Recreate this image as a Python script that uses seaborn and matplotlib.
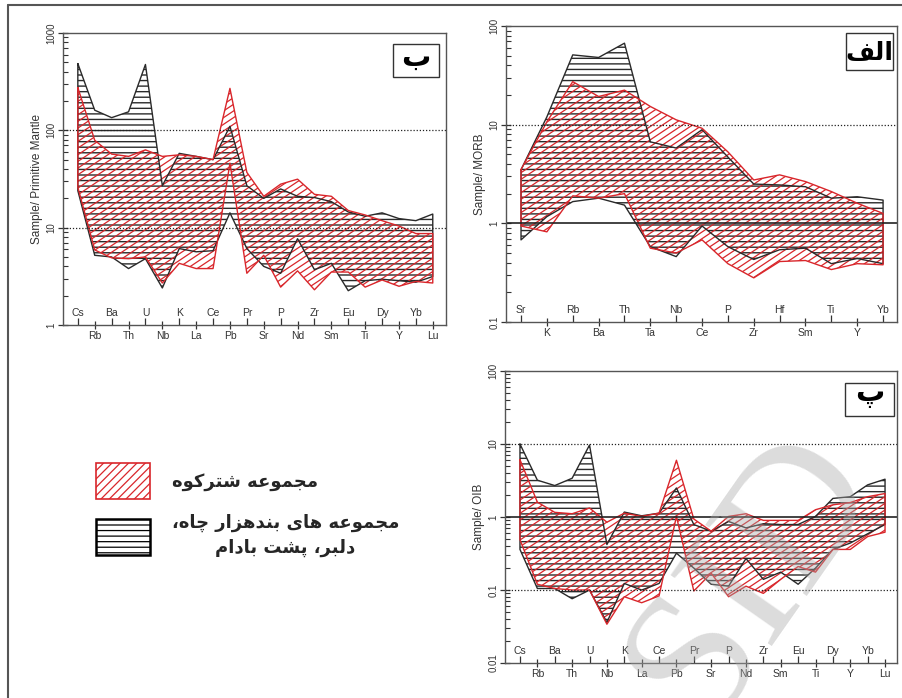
import numpy as np
import pandas as pd
import matplotlib
matplotlib.use("Agg")
import matplotlib.pyplot as plt
import seaborn as sns
from matplotlib import hatch as mhatch
from matplotlib.path import Path
from matplotlib.lines import Line2D
from matplotlib.patches import Patch, Rectangle
from matplotlib.font_manager import FontProperties

# ---- data (normalised concentrations) ----
pm_elements = ["Cs", "Rb", "Ba", "Th", "U", "Nb", "K", "La", "Ce", "Pb", "Pr",
               "Sr", "P", "Nd", "Zr", "Sm", "Eu", "Ti", "Dy", "Y", "Yb", "Lu"]
pm_black_hi = [485, 161, 135, 155, 475, 27, 58, 54, 50, 110, 27,
               20, 25, 21, 20.4, 18.5, 14.5, 13.1, 14.2, 12.4, 11.8, 13.8]
pm_black_lo = [24, 5.2, 5.0, 3.8, 4.8, 2.4, 6.1, 5.65, 5.8, 14.2, 6.1,
               4.0, 3.4, 7.7, 3.7, 4.3, 2.25, 2.85, 2.95, 2.85, 2.75, 3.15]
pm_red_hi = [275, 79, 57, 54, 63, 54, 56, 54, 50, 270, 37,
             21, 28, 31.5, 22, 21, 15, 13.5, 11.8, 10.4, 8.7, 8.7]
pm_red_lo = [26, 5.9, 4.9, 4.8, 5.0, 2.7, 4.3, 3.8, 3.8, 46, 3.4,
             5.2, 2.45, 3.6, 2.3, 3.5, 3.5, 2.45, 2.9, 2.5, 2.8, 2.7]

morb_elements = ["Sr", "K", "Rb", "Ba", "Th", "Ta", "Nb", "Ce", "P", "Zr",
                 "Hf", "Sm", "Ti", "Y", "Yb"]
morb_black_hi = [3.5, 12, 51, 48, 67, 6.7, 5.8, 8.9, 4.7, 2.5,
                 2.45, 2.35, 1.8, 1.86, 1.72]
morb_black_lo = [0.68, 1.17, 1.66, 1.8, 1.53, 0.58, 0.46, 0.94, 0.58, 0.43,
                 0.54, 0.56, 0.39, 0.44, 0.39]
morb_red_hi = [3.5, 10.7, 27.3, 19.3, 22.4, 15.3, 11.2, 9.2, 5.3, 2.75,
               3.1, 2.65, 2.1, 1.6, 1.26]
morb_red_lo = [0.94, 0.82, 1.9, 1.8, 2.0, 0.56, 0.50, 0.68, 0.39, 0.28,
               0.41, 0.42, 0.34, 0.39, 0.38]

oib_elements = pm_elements
oib_black_hi = [10, 3.2, 2.7, 3.4, 9.7, 0.42, 1.17, 1.04, 1.13, 2.5, 0.79,
                0.64, 0.87, 0.71, 0.81, 0.79, 0.79, 1.02, 1.8, 1.9, 2.76, 3.3]
oib_black_lo = [0.36, 0.105, 0.105, 0.076, 0.1, 0.036, 0.123, 0.1, 0.123, 0.32, 0.2,
                0.12, 0.113, 0.27, 0.14, 0.176, 0.12, 0.2, 0.36, 0.44, 0.59, 0.79]
oib_red_hi = [6.1, 1.6, 1.16, 1.11, 1.33, 0.85, 1.13, 1.02, 1.13, 6.0, 0.94,
              0.64, 1.02, 1.11, 0.90, 0.90, 0.90, 1.26, 1.47, 1.58, 1.9, 2.1]
oib_red_lo = [0.49, 0.12, 0.105, 0.1, 0.1, 0.034, 0.081, 0.067, 0.083, 1.02, 0.097,
              0.17, 0.081, 0.113, 0.09, 0.14, 0.21, 0.176, 0.36, 0.36, 0.54, 0.62]

legend_red = "مجموعه شترکوه"
legend_black = "مجموعه های بندهزار چاه،\nدلبر، پشت بادام"
watermark = "SID"

RED = "#d9262b"
BLACK = "#2a2a2a"

# matplotlib has no Arabic shaping: pick presentation forms by hand
FORMS = {
    "ا": ("\uFE8D", "\uFE8E", None, None),
    "ب": ("\uFE8F", "\uFE90", "\uFE91", "\uFE92"),
    "پ": ("\uFB56", "\uFB57", "\uFB58", "\uFB59"),
    "ت": ("\uFE95", "\uFE96", "\uFE97", "\uFE98"),
    "ج": ("\uFE9D", "\uFE9E", "\uFE9F", "\uFEA0"),
    "چ": ("\uFB7A", "\uFB7B", "\uFB7C", "\uFB7D"),
    "د": ("\uFEA9", "\uFEAA", None, None),
    "ر": ("\uFEAD", "\uFEAE", None, None),
    "ز": ("\uFEAF", "\uFEB0", None, None),
    "ش": ("\uFEB5", "\uFEB6", "\uFEB7", "\uFEB8"),
    "ع": ("\uFEC9", "\uFECA", "\uFECB", "\uFECC"),
    "ف": ("\uFED1", "\uFED2", "\uFED3", "\uFED4"),
    "ک": ("\uFB8E", "\uFB8F", "\uFB90", "\uFB91"),
    "ل": ("\uFEDD", "\uFEDE", "\uFEDF", "\uFEE0"),
    "م": ("\uFEE1", "\uFEE2", "\uFEE3", "\uFEE4"),
    "ن": ("\uFEE5", "\uFEE6", "\uFEE7", "\uFEE8"),
    "ه": ("\uFEE9", "\uFEEA", "\uFEEB", "\uFEEC"),
    "و": ("\uFEED", "\uFEEE", None, None),
    "ی": ("\uFBFC", "\uFBFD", "\uFBFE", "\uFBFF"),
}


def shape_line(text):
    """Join Persian letters and flip to visual (left-to-right) order."""
    out = []
    for i, c in enumerate(text):
        if c not in FORMS:
            out.append(c)
            continue
        prev = text[i - 1] if i > 0 else ""
        nxt = text[i + 1] if i + 1 < len(text) else ""
        iso, fin, ini, med = FORMS[c]
        join_prev = prev in FORMS and FORMS[prev][2] is not None
        join_next = ini is not None and nxt in FORMS
        if join_prev and join_next:
            out.append(med)
        elif join_prev:
            out.append(fin)
        elif join_next:
            out.append(ini)
        else:
            out.append(iso)
    return "".join(reversed(out))


def shape(text):
    return "\n".join(shape_line(t) for t in text.split("\n"))


class ShallowNorthEastHatch(mhatch.HatchPatternBase):
    """'/' and '//' give shallow (slope 2/3) lines like the original figure;
    three or more slashes fall back to the usual 45 degree hatch."""

    def __init__(self, hatch, density):
        n = hatch.count("/")
        self.steep = n >= 3
        if self.steep:
            self.num_lines = int(n * density)
            self.num_vertices = (self.num_lines + 1) * 2
        elif n:
            # lines per inch counted vertically, kept a multiple of 3 so the tile repeats
            self.num_lines = 3 * int(round(n * density * 1.25 / 3))
            self.ks = np.arange(-2 * self.num_lines // 3, self.num_lines + 1)
            self.num_vertices = len(self.ks) * 2
        else:
            self.num_lines = 0
            self.num_vertices = 0

    def set_vertices_and_codes(self, vertices, codes):
        if self.steep:
            steps = np.linspace(-0.5, 0.5, self.num_lines + 1)
            vertices[0::2, 0] = 0.0 + steps
            vertices[0::2, 1] = 0.0 - steps
            vertices[1::2, 0] = 1.0 + steps
            vertices[1::2, 1] = 1.0 - steps
        else:
            off = self.ks / self.num_lines
            vertices[0::2, 0] = 0.0
            vertices[0::2, 1] = off
            vertices[1::2, 0] = 1.0
            vertices[1::2, 1] = off + 2.0 / 3.0
        codes[0::2] = Path.MOVETO
        codes[1::2] = Path.LINETO


mhatch._hatch_types = [ShallowNorthEastHatch if h is mhatch.NorthEastHatch else h
                       for h in mhatch._hatch_types]


def draw_panel(ax, elements, black_hi, black_lo, red_hi, red_lo,
               ylim, yticks, ylabel, tag, dotted, solid, box):
    x = np.arange(len(elements))
    for hi, lo, col, hatch, hlw in [(black_hi, black_lo, BLACK, "---", 1.0),
                                    (red_hi, red_lo, RED, "//", 0.9)]:
        coll = ax.fill_between(x, lo, hi, facecolor="none", edgecolor=col,
                               hatch=hatch, linewidth=0)
        if hasattr(coll, "set_hatch_linewidth"):
            coll.set_hatch_linewidth(hlw)
        # closed outline of the field
        xs = np.concatenate([x, x[::-1], x[:1]])
        ys = np.concatenate([hi, lo[::-1], hi[:1]])
        sns.lineplot(x=xs, y=ys, sort=False, estimator=None, color=col,
                     linewidth=1.0, ax=ax, legend=False)
    for v in dotted:
        ax.axhline(v, color="#222222", linestyle=(0, (1, 1.5)), linewidth=0.9)
    for v in solid:
        ax.axhline(v, color="#222222", linewidth=1.2)

    ax.set_yscale("log")
    ax.set_ylim(*ylim)
    ax.set_xlim(*box)
    ax.set_yticks(yticks, labels=[f"{t:g}" for t in yticks])
    ax.yaxis.set_minor_locator(matplotlib.ticker.LogLocator(subs=np.arange(2, 10)))
    ax.yaxis.set_minor_formatter(matplotlib.ticker.NullFormatter())
    for lab in ax.get_yticklabels():
        lab.set_rotation(90)
        lab.set_va("center")
    ax.tick_params(axis="y", which="major", direction="inout", length=7,
                   width=0.9, labelsize=7, pad=1, colors="#333333")
    ax.tick_params(axis="y", which="minor", direction="in", length=3.5,
                   width=0.8, colors="#333333")

    odd = x[1::2]
    even = x[0::2]
    ax.set_xticks(odd, labels=[elements[i] for i in odd])
    ax.set_xticks(even, labels=[elements[i] for i in even], minor=True)
    ax.tick_params(axis="x", which="major", direction="inout", length=6,
                   width=0.9, labelsize=7.5, pad=1.5, colors="#333333")
    ax.tick_params(axis="x", which="minor", direction="in", length=5,
                   width=0.9, labelsize=7.5, pad=-12.5, colors="#333333")
    ax.set_xlabel("")
    ax.set_ylabel(ylabel, fontsize=8.5, color="#333333", labelpad=3)
    for sp in ax.spines.values():
        sp.set_color("#555555")
        sp.set_linewidth(1.0)

    # panel tag in a framed box (top right corner)
    ax.add_patch(Rectangle((tag[1], tag[2]), tag[3], tag[4], transform=ax.transAxes,
                           facecolor="white", edgecolor="#333333", linewidth=1.0,
                           zorder=5))
    ax.text(tag[1] + tag[3] / 2, tag[2] + tag[4] / 2 + tag[6], shape(tag[0]),
            transform=ax.transAxes, ha="center", va="center", fontsize=tag[5],
            fontweight="bold", family="DejaVu Sans", color="black", zorder=6)


sns.set_style("ticks")
plt.rcParams["font.family"] = ["Liberation Sans", "DejaVu Sans"]
plt.rcParams["hatch.linewidth"] = 0.9

fig = plt.figure(figsize=(9.02, 6.98), dpi=100)
ax_pm = fig.add_axes([0.0698, 0.5344, 0.4246, 0.4183])
ax_morb = fig.add_axes([0.5610, 0.5387, 0.4335, 0.4240])
ax_oib = fig.add_axes([0.5599, 0.0501, 0.4346, 0.4183])

draw_panel(ax_pm, pm_elements, np.array(pm_black_hi), np.array(pm_black_lo),
           np.array(pm_red_hi), np.array(pm_red_lo), (1, 1000), [1, 10, 100, 1000],
           "Sample/ Primitive Mantle", ("ب", 0.862, 0.849, 0.120, 0.113, 21, 0.01),
           dotted=[10, 100], solid=[], box=(-0.88, 21.78))
draw_panel(ax_morb, morb_elements, np.array(morb_black_hi), np.array(morb_black_lo),
           np.array(morb_red_hi), np.array(morb_red_lo), (0.1, 100), [0.1, 1, 10, 100],
           "Sample/ MORB", ("الف", 0.870, 0.851, 0.120, 0.125, 18, -0.005),
           dotted=[10], solid=[1], box=(-0.58, 14.54))
draw_panel(ax_oib, oib_elements, np.array(oib_black_hi), np.array(oib_black_lo),
           np.array(oib_red_hi), np.array(oib_red_lo), (0.01, 100), [0.01, 0.1, 1, 10, 100],
           "Sample/ OIB", ("پ", 0.867, 0.846, 0.125, 0.113, 21, 0.02),
           dotted=[10, 0.1], solid=[1], box=(-0.86, 21.69))

# legend of the two fields
handles = [Patch(facecolor="none", edgecolor=RED, hatch="////", linewidth=1.2,
                 label=shape(legend_red)),
           Patch(facecolor="none", edgecolor="black", hatch="---", linewidth=1.8,
                 label=shape(legend_black))]
leg = fig.legend(handles=handles, loc="upper left", bbox_to_anchor=(0.1064, 0.3367),
                 frameon=False, borderpad=0, borderaxespad=0,
                 prop=FontProperties(family="DejaVu Sans", weight="bold", size=13),
                 handlelength=3.0, handleheight=2.67, labelspacing=0.83,
                 handletextpad=1.2)
for t in leg.get_texts():
    t.set_multialignment("center")
    t.set_linespacing(1.5)

# faint watermark over the lower right panel
fig.text(0.835, 0.175, watermark, rotation=55, ha="center", va="center",
         fontsize=135, family="Liberation Serif", color="#a8a8a8", alpha=0.4,
         zorder=10)

# thin page frame (top and left edges visible)
fig.add_artist(Line2D([0.0089, 0.0089], [0, 0.9928], color="#555555", linewidth=1.5))
fig.add_artist(Line2D([0.0089, 1.0], [0.9928, 0.9928], color="#555555", linewidth=1.5))

fig.savefig("out.png", dpi=100)
